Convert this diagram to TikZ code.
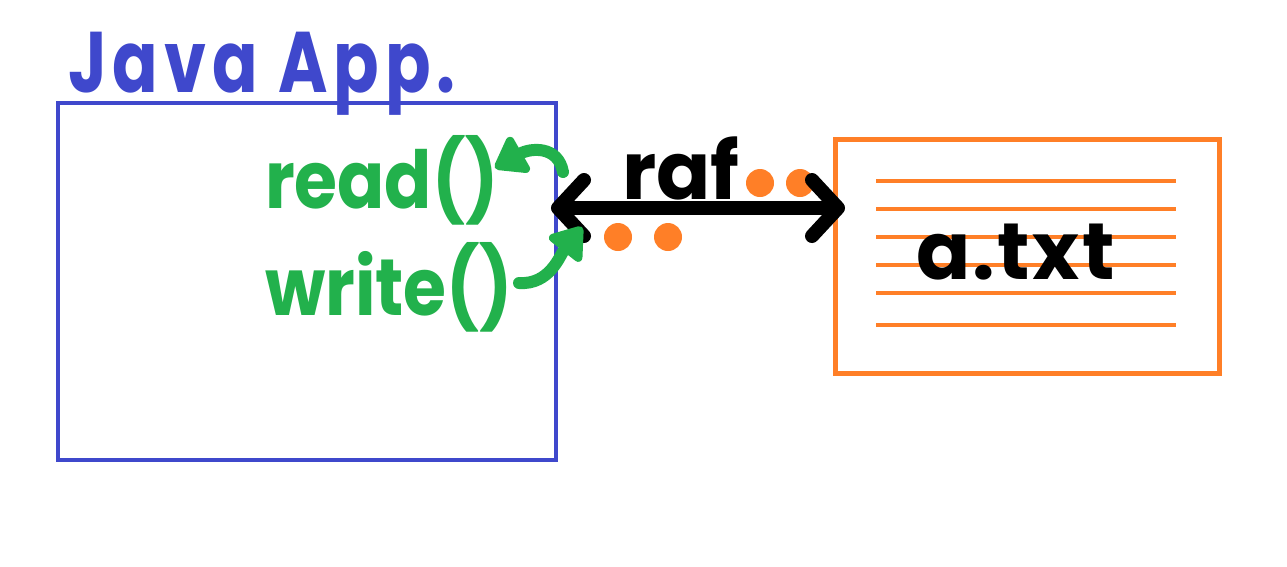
\documentclass[tikz,border=0pt]{standalone}
\usepackage{fontspec}
\setmainfont{Poppins}
\newfontfamily\titlefont{Poppins}[FakeStretch=0.78, LetterSpace=7]
\newfontfamily\callfont{Poppins}[FakeStretch=0.87]
\newfontfamily\filefont{Poppins}[LetterSpace=3]
\usetikzlibrary{arrows.meta}
\definecolor{appBlue}{RGB}{63,72,204}
\definecolor{callGreen}{RGB}{34,177,76}
\definecolor{fileOrange}{RGB}{255,127,39}

\begin{document}
\begin{tikzpicture}[
    x=1pt, y=-1pt,
    appBox/.style={draw=appBlue, line width=4pt, minimum width=498pt, minimum height=357pt},
    fileBox/.style={draw=fileOrange, line width=5pt, minimum width=384pt, minimum height=234pt},
    bigText/.style={font=\bfseries\fontsize{80}{96}\selectfont},
    callText/.style={font=\callfont\bfseries\fontsize{80}{96}\selectfont, text=callGreen},
    callArrow/.style={callGreen, line width=12pt, line cap=round, -{Triangle[length=34pt, width=46pt, round]}},
    rafArrow/.style={line width=14pt, line cap=round, {Straight Barb[length=26pt, width=56pt, line cap=round, line join=round]}-{Straight Barb[length=26pt, width=56pt, line cap=round, line join=round]}},
    every node/.style={
        inner sep=0pt, outer sep=0pt,
        }
        ]
    \useasboundingbox (0,0) rectangle (1287,566);

    \node[appBox, anchor=north west] (app) at (58,103) {};
    \node[anchor=base west, text=appBlue, font=\titlefont\bfseries\fontsize{86}{96}\selectfont] (appTitle) at (68,92) {Java App.};

    \node[callText, anchor=base west] (readCall) at (265,208) {read()};
    \node[callText, anchor=base west] (writeCall) at (265,315) {write()};

    \node[fileBox, anchor=north west] (file) at (835,139) {};
    \foreach \y in {181, 209, 237, 265, 293, 325}
        \draw[fileOrange, line width=4pt] (876,\y) -- (1176,\y);
    \node[bigText, anchor=base west, font=\filefont\bfseries\fontsize{80}{96}\selectfont] (fileName) at (916,279) {a.txt};

    \node[bigText, anchor=base west] (raf) at (622,199) {raf};
    \foreach \px/\py in {760/183, 800/183, 618/237, 668/237}
        \fill[fileOrange] (\px,\py) circle[radius=14pt];

    \coordinate (rafRow) at (0,208);
    \draw[rafArrow] ([xshift=-5pt]app.east |- rafRow) -- ([xshift=10pt]file.west |- rafRow);

    \draw[callArrow] ([shift={(298,-36)}]readCall.base west) .. controls (558,145) and (530,148) .. ([shift={(230,-40)}]readCall.base west);
    \draw[callArrow] ([shift={(254,-32)}]writeCall.base west) .. controls (550,285) and (560,255) .. (582,227);
\end{tikzpicture}
\end{document}
